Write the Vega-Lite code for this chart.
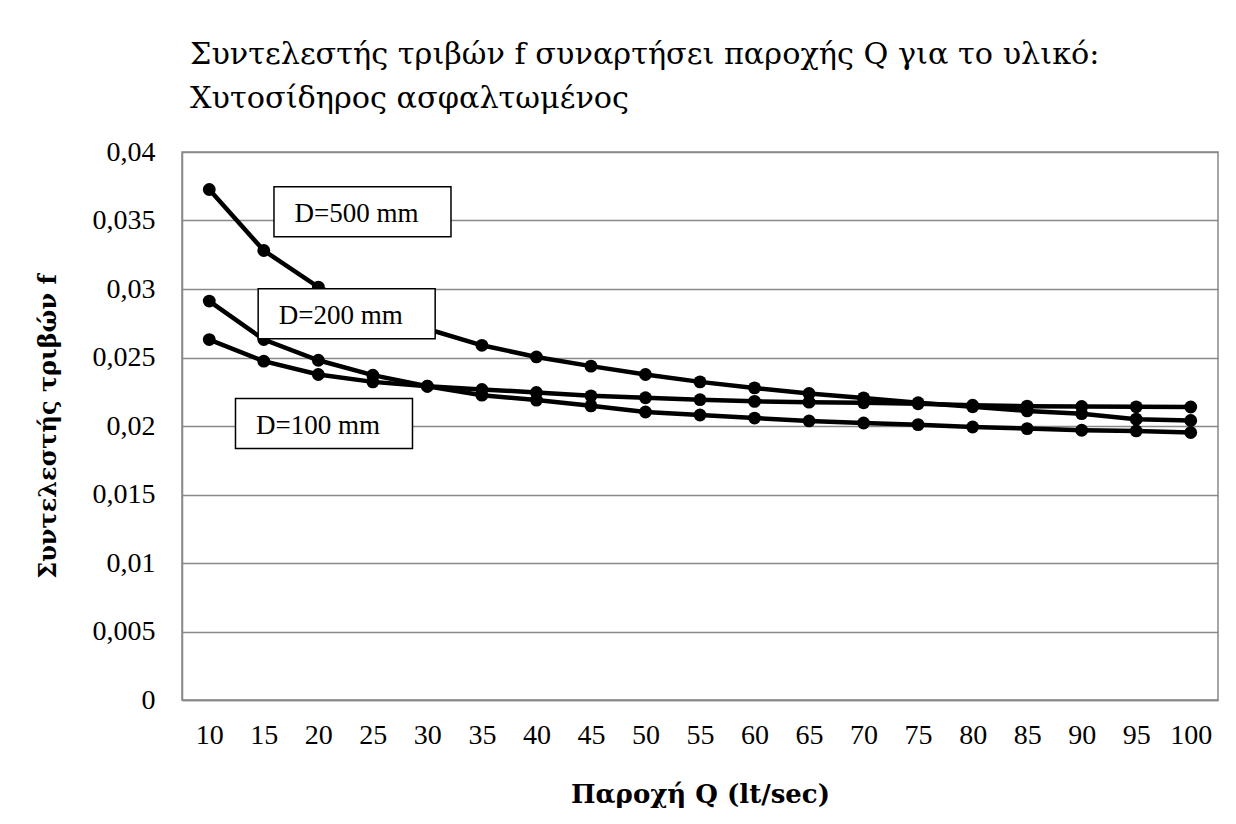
{
  "$schema": "https://vega.github.io/schema/vega-lite/v6.json",
  "autosize": {"type": "none"},
  "padding": {"left": 182, "top": 152, "right": 18, "bottom": 124},
  "width": 1036,
  "height": 548,
  "background": "white",
  "config": {
    "font": "Liberation Serif",
    "view": {"stroke": "#898989", "strokeWidth": 1.5},
    "axis": {"labelFont": "Liberation Serif", "titleFont": "DejaVu Serif", "labelColor": "black", "titleColor": "black", "domainColor": "#898989", "domainWidth": 1.5, "gridColor": "#898989", "gridWidth": 1.5, "ticks": false, "tickSize": 0}
  },
  "title": {
    "text": ["Συντελεστής τριβών f συναρτήσει παροχής Q για το υλικό:", "Χυτοσίδηρος ασφαλτωμένος"],
    "anchor": "start",
    "frame": "group",
    "dx": 8,
    "offset": 0,
    "baseline": "alphabetic",
    "font": "DejaVu Serif",
    "fontSize": 30.3,
    "fontWeight": "normal",
    "lineHeight": 44,
    "color": "black"
  },
  "datasets": {
    "curves": [
      {"D": "D=100 mm", "Q": 10, "f": 0.02631}, {"D": "D=100 mm", "Q": 15, "f": 0.02473}, {"D": "D=100 mm", "Q": 20, "f": 0.02376}, {"D": "D=100 mm", "Q": 25, "f": 0.02322}, {"D": "D=100 mm", "Q": 30, "f": 0.0229}, {"D": "D=100 mm", "Q": 35, "f": 0.02267}, {"D": "D=100 mm", "Q": 40, "f": 0.02245}, {"D": "D=100 mm", "Q": 45, "f": 0.0222}, {"D": "D=100 mm", "Q": 50, "f": 0.02206}, {"D": "D=100 mm", "Q": 55, "f": 0.02192}, {"D": "D=100 mm", "Q": 60, "f": 0.0218}, {"D": "D=100 mm", "Q": 65, "f": 0.02174}, {"D": "D=100 mm", "Q": 70, "f": 0.0217}, {"D": "D=100 mm", "Q": 75, "f": 0.02162}, {"D": "D=100 mm", "Q": 80, "f": 0.02152}, {"D": "D=100 mm", "Q": 85, "f": 0.02145}, {"D": "D=100 mm", "Q": 90, "f": 0.02142}, {"D": "D=100 mm", "Q": 95, "f": 0.0214}, {"D": "D=100 mm", "Q": 100, "f": 0.02139},
      {"D": "D=200 mm", "Q": 10, "f": 0.02912}, {"D": "D=200 mm", "Q": 15, "f": 0.02631}, {"D": "D=200 mm", "Q": 20, "f": 0.0248}, {"D": "D=200 mm", "Q": 25, "f": 0.02371}, {"D": "D=200 mm", "Q": 30, "f": 0.0229}, {"D": "D=200 mm", "Q": 35, "f": 0.02225}, {"D": "D=200 mm", "Q": 40, "f": 0.02189}, {"D": "D=200 mm", "Q": 45, "f": 0.02147}, {"D": "D=200 mm", "Q": 50, "f": 0.02102}, {"D": "D=200 mm", "Q": 55, "f": 0.0208}, {"D": "D=200 mm", "Q": 60, "f": 0.02058}, {"D": "D=200 mm", "Q": 65, "f": 0.02037}, {"D": "D=200 mm", "Q": 70, "f": 0.02022}, {"D": "D=200 mm", "Q": 75, "f": 0.0201}, {"D": "D=200 mm", "Q": 80, "f": 0.01993}, {"D": "D=200 mm", "Q": 85, "f": 0.01981}, {"D": "D=200 mm", "Q": 90, "f": 0.01969}, {"D": "D=200 mm", "Q": 95, "f": 0.01964}, {"D": "D=200 mm", "Q": 100, "f": 0.01952},
      {"D": "D=500 mm", "Q": 10, "f": 0.03726}, {"D": "D=500 mm", "Q": 15, "f": 0.03281}, {"D": "D=500 mm", "Q": 20, "f": 0.03014}, {"D": "D=500 mm", "Q": 25, "f": 0.0284}, {"D": "D=500 mm", "Q": 30, "f": 0.02708}, {"D": "D=500 mm", "Q": 35, "f": 0.02589}, {"D": "D=500 mm", "Q": 40, "f": 0.02504}, {"D": "D=500 mm", "Q": 45, "f": 0.02437}, {"D": "D=500 mm", "Q": 50, "f": 0.02376}, {"D": "D=500 mm", "Q": 55, "f": 0.02322}, {"D": "D=500 mm", "Q": 60, "f": 0.02278}, {"D": "D=500 mm", "Q": 65, "f": 0.02237}, {"D": "D=500 mm", "Q": 70, "f": 0.02205}, {"D": "D=500 mm", "Q": 75, "f": 0.0217}, {"D": "D=500 mm", "Q": 80, "f": 0.0214}, {"D": "D=500 mm", "Q": 85, "f": 0.0211}, {"D": "D=500 mm", "Q": 90, "f": 0.0209}, {"D": "D=500 mm", "Q": 95, "f": 0.0205}, {"D": "D=500 mm", "Q": 100, "f": 0.0204}
    ],
    "labels": [
      {"label": "D=500 mm", "Q": 24.05, "f": 0.03563},
      {"label": "D=200 mm", "Q": 22.6, "f": 0.0282},
      {"label": "D=100 mm", "Q": 20.52, "f": 0.02018}
    ]
  },
  "layer": [
    {
      "data": {"name": "curves"},
      "mark": {"type": "line", "color": "black", "strokeWidth": 4.5, "point": {"filled": true, "size": 165, "color": "black"}},
      "encoding": {
        "x": {"field": "Q", "type": "quantitative", "scale": {"domain": [7.5, 102.5], "nice": false, "zero": false},
          "axis": {"values": [10, 15, 20, 25, 30, 35, 40, 45, 50, 55, 60, 65, 70, 75, 80, 85, 90, 95, 100], "grid": false, "labelFontSize": 28, "labelBaseline": "alphabetic", "labelPadding": 43, "labelFlush": false, "labelOverlap": false,
            "title": "Παροχή Q (lt/sec)", "titleFontSize": 26, "titleFontWeight": "bold", "titleBaseline": "alphabetic", "titleY": 102}},
        "y": {"field": "f", "type": "quantitative", "scale": {"domain": [0, 0.04], "nice": false, "zero": true},
          "axis": {"values": [0, 0.005, 0.01, 0.015, 0.02, 0.025, 0.03, 0.035, 0.04], "labelExpr": "replace(format(datum.value, '.3~f'), '.', ',')", "labelFontSize": 28, "labelPadding": 27, "labelFlush": false,
            "title": "Συντελεστής τριβών f", "titleFontSize": 24, "titleFontWeight": "bold", "titleBaseline": "alphabetic", "titleX": -127}},
        "detail": {"field": "D", "type": "nominal"}
      }
    },
    {
      "data": {"name": "labels"},
      "mark": {"type": "point", "shape": "M-1,-0.2825H1V0.2825H-1Z", "size": 31329, "filled": true, "fill": "white", "stroke": "black", "strokeWidth": 1.5, "opacity": 1},
      "encoding": {
        "x": {"field": "Q", "type": "quantitative"},
        "y": {"field": "f", "type": "quantitative"}
      }
    },
    {
      "data": {"name": "labels"},
      "mark": {"type": "text", "font": "Liberation Serif", "fontSize": 27, "color": "black", "align": "center", "baseline": "alphabetic", "dx": -6, "dy": 10},
      "encoding": {
        "x": {"field": "Q", "type": "quantitative"},
        "y": {"field": "f", "type": "quantitative"},
        "text": {"field": "label"}
      }
    }
  ]
}
